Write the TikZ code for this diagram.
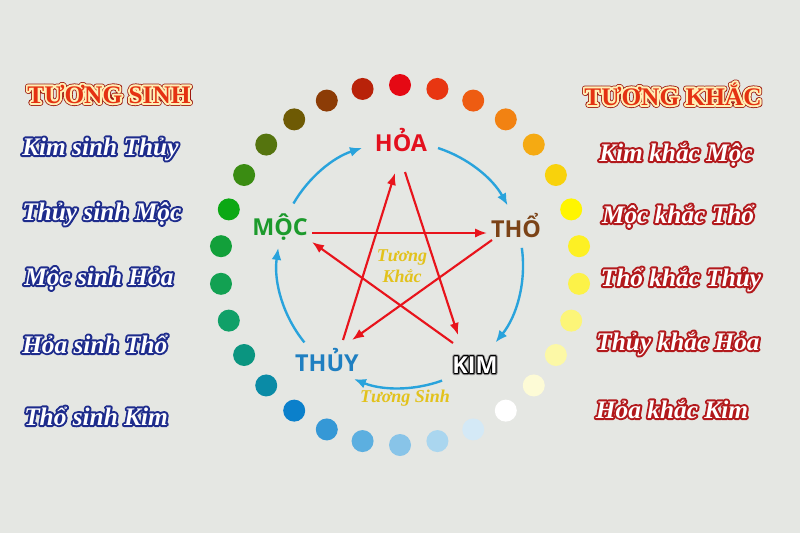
\documentclass[tikz,border=0pt]{standalone}
\usepackage{fontspec}
\setmainfont{Liberation Serif}
\newfontfamily\elemfont{Open Sans}
\usetikzlibrary{arrows.meta,calc}
\definecolor{bg}{HTML}{E5E7E3}
\definecolor{hoacol}{HTML}{E3101E}
\definecolor{moccol}{HTML}{1C9A2C}
\definecolor{thocol}{HTML}{7B4317}
\definecolor{thuycol}{HTML}{1F7FC1}
\definecolor{starred}{HTML}{E8141C}
\definecolor{arcblue}{HTML}{29A3DC}
\definecolor{titlered}{HTML}{E53212}
\definecolor{labelyellow}{HTML}{E2C21C}
% stroke-only copy of a text: #1 = stroke colour (r g b, 0..1), #2 = stroke width (pt), #3 = text
\newcommand\strokedtext[3]{\rlap{\special{pdf:literal direct 1 Tr #2 w 1 j #1 RG}#3\special{pdf:literal direct 0 Tr}}}
\newcommand\sinhtext[1]{\strokedtext{0.118 0.173 0.549}{3.0}{#1}#1}
\newcommand\khactext[1]{\strokedtext{0.698 0.098 0.110}{3.0}{#1}#1}
\newcommand\titletxt[1]{\strokedtext{0.62 0.10 0.06}{4.2}{#1}\strokedtext{1 0.937 0.710}{3.0}{#1}#1}
\tikzset{
  elem/.style={font={\elemfont\bfseries\fontsize{17.5}{20}\selectfont}, inner sep=0pt, anchor=base},
  item/.style={font={\bfseries\itshape\fontsize{19}{22}\selectfont}, inner sep=0pt, text=white},
  titletext/.style={font={\bfseries\fontsize{19}{22}\selectfont}, inner sep=0pt, text=titlered, anchor=base},
  midlabel/.style={font={\bfseries\itshape\fontsize{13.5}{15.75}\selectfont}, inner sep=0pt, text=labelyellow, align=center},
  khac/.style={draw=starred, line width=1.6pt, -{Latex[length=9pt,width=7pt]}},
  sinh/.style={draw=arcblue, line width=1.8pt, -{Latex[length=9pt,width=7.5pt]}},
}
\begin{document}
\begin{tikzpicture}[x=0.75pt,y=-0.75pt]
\fill[bg] (0,0) rectangle (800,533);
\useasboundingbox (0,0) rectangle (800,533);

% ring of dots
\foreach \a/\h in {0/E50914,12/E83612,24/EE5C12,36/F28212,48/F5AA12,60/F8D20C,
  72/FFF500,84/FDF024,96/FCF248,108/FCF578,120/FCF8A6,132/FDFBD6,144/FFFFFF,
  156/D4E9F6,168/AAD6EF,180/88C4E8,192/5CAFE0,204/3598D6,216/0B80CB,228/0A8BA6,
  240/0A9580,252/10A068,264/12A152,276/12A03A,288/0CA814,300/3A8C12,312/55740E,
  324/6E5A04,336/8C3C06,348/B82209}{
  \definecolor{dotcol}{HTML}{\h}
  \fill[dotcol] ({400+180*sin(\a)},{265-180*cos(\a)}) circle[radius=11];
}

% element labels
\node[elem, text=hoacol] (hoa) at (401,151) {HỎA};
\node[elem, text=moccol] (moc) at (280,235) {MỘC};
\node[elem, text=thocol] (tho) at (516,237) {THỔ};
\node[elem, text=thuycol] (thuy) at (327,371) {THỦY};
\node[elem, text=white] (kim) at (475,373) {\strokedtext{0.55 0.55 0.55}{3.0}{KIM}\strokedtext{0 0 0}{1.8}{KIM}KIM};

% generating cycle (blue arcs)
\coordinate (c) at (400,265);
\draw[sinh] ($(c)+(-150:123)$) arc[start angle=-150, end angle=-108, radius=123];
\draw[sinh] ($(c)+(-72:123)$) arc[start angle=-72, end angle=-29, radius=123];
\draw[sinh] ($(c)+(-8:123)$) arc[start angle=-8, end angle=39, radius=123];
\draw[sinh] ($(c)+(70:123)$) arc[start angle=70, end angle=112, radius=123];
\draw[sinh] ($(c)+(141:123)$) arc[start angle=141, end angle=188, radius=123];

% controlling cycle (red star)
\draw[khac] ($(hoa.base)+(4,21)$) -- ($(kim.base)+(-17,-38)$);
\draw[khac] ($(thuy.base)+(16,-31)$) -- ($(hoa.base)+(-6,22)$);
\draw[khac] ($(moc.base)+(32,-2)$) -- ($(tho.base)+(-29,-4)$);
\draw[khac] ($(tho.base)+(-24,3)$) -- ($(thuy.base)+(25,-31)$);
\draw[khac] ($(kim.base)+(-22,-30)$) -- ($(moc.base)+(32,7)$);

% middle labels
\node[midlabel] (tk) at (402,266) {Tương\\Khắc};
\node[midlabel] (ts) at (405,398) {Tương Sinh};

% left column
\node[titletext] (tsinh) at (109,103) {\titletxt{TƯƠNG SINH}};
\node[item, anchor=base west] (l1) at (22,155) {\sinhtext{Kim sinh Thủy}};
\node[item, anchor=base west] (l2) at (22,220) {\sinhtext{Thủy sinh Mộc}};
\node[item, anchor=base west] (l3) at (24,285) {\sinhtext{Mộc sinh Hỏa}};
\node[item, anchor=base west] (l4) at (22,353) {\sinhtext{Hỏa sinh Thổ}};
\node[item, anchor=base west] (l5) at (24,425) {\sinhtext{Thổ sinh Kim}};

% right column
\node[titletext] (tkhac) at (673,105) {\titletxt{TƯƠNG KHẮC}};
\node[item, anchor=base] (r1) at (676,161) {\khactext{Kim khắc Mộc}};
\node[item, anchor=base] (r2) at (678,223) {\khactext{Mộc khắc Thổ}};
\node[item, anchor=base] (r3) at (681,286) {\khactext{Thổ khắc Thủy}};
\node[item, anchor=base] (r4) at (678,350) {\khactext{Thủy khắc Hỏa}};
\node[item, anchor=base] (r5) at (672,418) {\khactext{Hỏa khắc Kim}};
\end{tikzpicture}
\end{document}
